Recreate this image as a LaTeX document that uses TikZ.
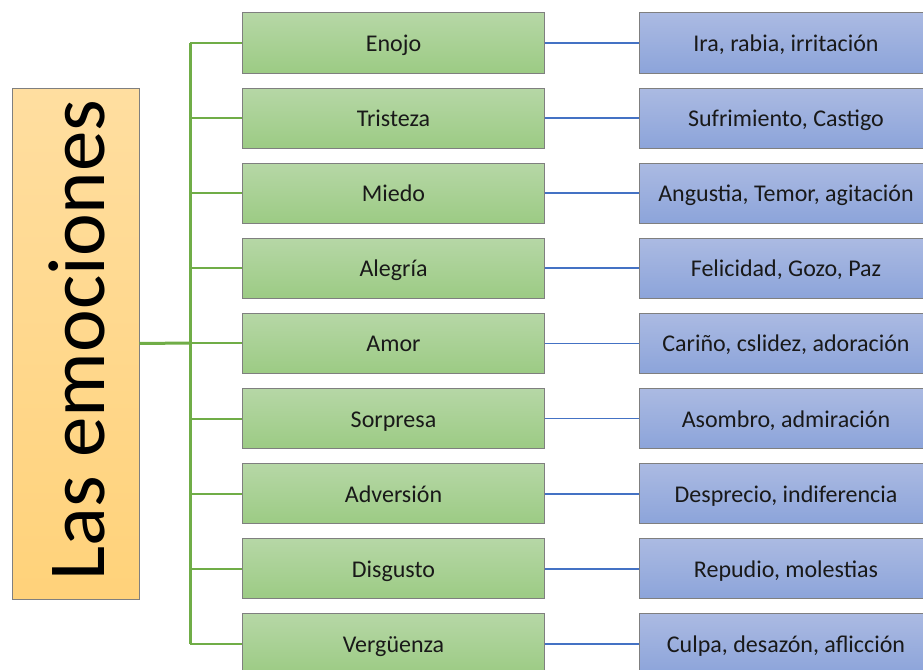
\documentclass[tikz,border=0pt]{standalone}
\usepackage{fontspec}
\setmainfont{Carlito}
\definecolor{naranjaA}{HTML}{FFDEA0}
\definecolor{naranjaB}{HTML}{FFD27A}
\definecolor{verdeA}{HTML}{B6D7A6}
\definecolor{verdeB}{HTML}{9CCB84}
\definecolor{azulA}{HTML}{ABBAE2}
\definecolor{azulB}{HTML}{8CA4DA}
\definecolor{borde}{HTML}{7F7F7F}
\definecolor{lineaverde}{HTML}{70AD47}
\definecolor{lineaazul}{HTML}{4472C4}

\begin{document}
\begin{tikzpicture}[x=1pt,y=-1pt,
	caja/.style={draw=borde, line width=1pt, minimum height=60pt, inner sep=0pt,
		font=\fontsize{24}{28}\selectfont, text=black!90,
		text height=18pt, text depth=1pt},
	emocion/.style={caja, minimum width=302pt, top color=verdeA, bottom color=verdeB},
	sinonimo/.style={caja, minimum width=294pt, top color=azulA, bottom color=azulB},
	rama/.style={draw=lineaverde, line width=2pt},
	enlace/.style={draw=lineaazul, line width=1.8pt}]
	%%%%% START %%%%%
	
	\useasboundingbox (0,0) rectangle (923,669);
	
	\node[draw=borde, line width=1pt, minimum width=127pt, minimum height=511pt,
		top color=naranjaA, bottom color=naranjaB] (titulo) at (75.5,343.5) {};
	\node[rotate=90, font=\fontsize{81}{90}\selectfont] (tituloTexto) at (77,340) {Las emociones};
	
	\coordinate (tronco) at (190,343);
	\coordinate (troncoArriba) at (190,43);
	\coordinate (troncoAbajo) at (190,644);
	
	\foreach \i/\e/\s in {1/Enojo/{Ira, rabia, irritación},
		2/Tristeza/{Sufrimiento, Castigo},
		3/Miedo/{Angustia, Temor, agitación},
		4/Alegría/{Felicidad, Gozo, Paz},
		5/Amor/{Cariño, cslidez, adoración},
		6/Sorpresa/{Asombro, admiración},
		7/Adversión/{Desprecio, indiferencia},
		8/Disgusto/{Repudio, molestias},
		9/Vergüenza/{Culpa, desazón, aflicción}}
	{
		\node[emocion] (e\i) at (393.5,{43+75.1*(\i-1)}) {\e};
		\node[sinonimo] (s\i) at (786,{43+75.1*(\i-1)}) {\s};
		\draw[rama] (tronco |- e\i.west) -- (e\i.west);
		\draw[enlace] (e\i.east) -- (s\i.west);
	}
	
	\draw[rama, line width=3pt] (troncoArriba) -- (troncoAbajo);
	\draw[rama, line width=3pt] (titulo.east) -- (tronco);
	
	%%%%% END %%%%%
\end{tikzpicture}
\end{document}
